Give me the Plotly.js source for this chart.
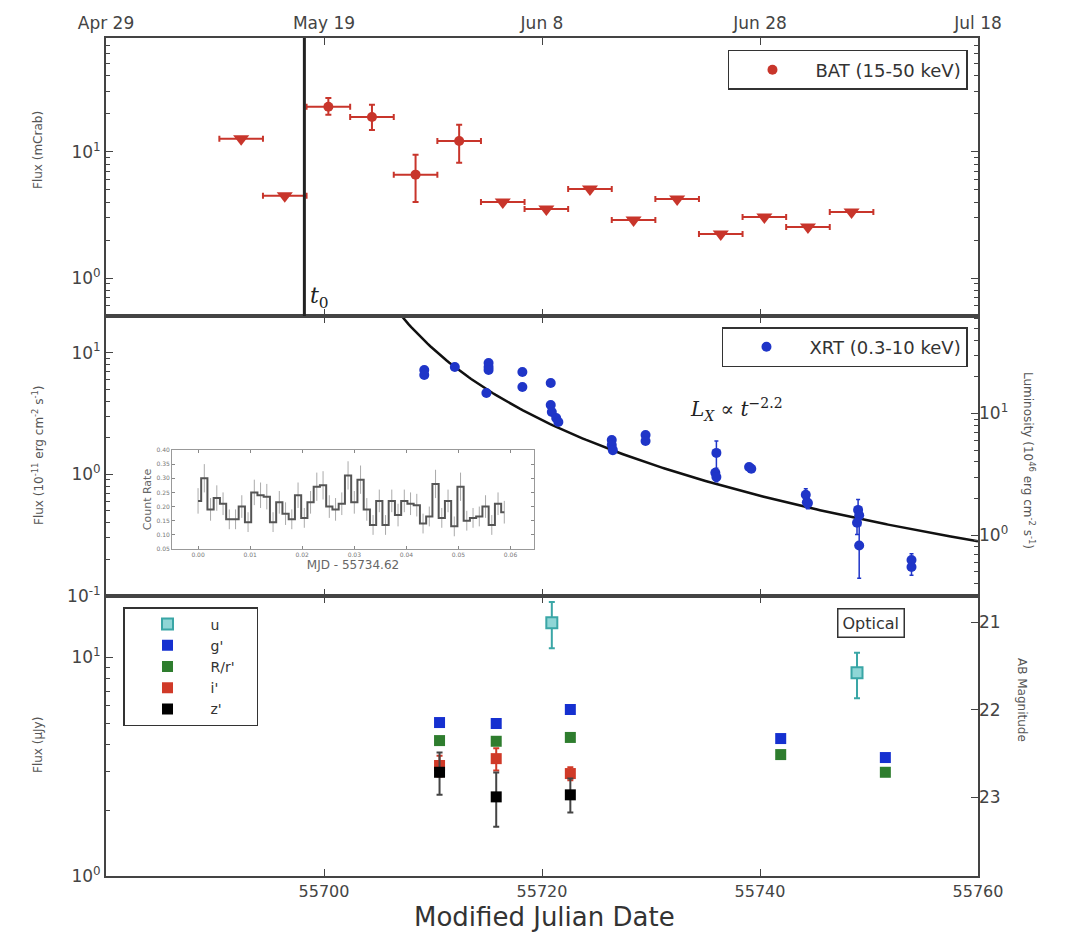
<!DOCTYPE html>
<html>
<head>
<meta charset="utf-8">
<script src="https://cdn.plot.ly/plotly-3.0.1.min.js"></script>
<style>html,body{margin:0;padding:0;background:#fff;}#chart{width:1068px;height:934px;}</style>
</head>
<body>
<div id="chart"></div>
<script>
// ---------------- data ----------------
const mjdTickVals = [55680, 55700, 55720, 55740, 55760];
const dateLabels = ['Apr 29', 'May 19', 'Jun 8', 'Jun 28', 'Jul 18'];
const mjdLabelVals = [55700, 55720, 55740, 55760];
const mjdLabelText = ['55700', '55720', '55740', '55760'];
const t0 = 55698.2;

// BAT (15-50 keV): detections (circles) and upper limits (triangles), 4-day bins
const batT = [55700.4, 55704.4, 55708.4, 55712.4];
const batFlux = [22.8, 18.9, 6.6, 12.2];
const batErrPlus = [4.0, 4.7, 2.9, 4.2];
const batErrMinus = [3.1, 4.0, 2.6, 4.0];
const batUlT = [55692.4, 55696.4, 55716.4, 55720.4, 55724.4, 55728.4, 55732.4, 55736.4, 55740.4, 55744.4, 55748.4];
const batUlFlux = [12.7, 4.48, 4.0, 3.53, 5.08, 2.88, 4.24, 2.23, 3.05, 2.54, 3.34];
const batBinHalf = 2;

// XRT (0.3-10 keV)
const xrtT = [55709.2, 55709.2, 55712.0, 55715.1, 55715.1, 55715.1, 55714.9, 55718.2, 55718.2, 55720.8, 55720.8, 55720.9, 55721.3, 55721.5, 55726.4, 55726.4, 55726.5, 55729.5, 55729.5, 55736.0, 55735.9, 55736.0, 55739.0, 55739.2, 55744.2, 55744.3, 55744.4, 55749.0, 55749.1, 55748.9, 55749.1, 55753.9, 55753.9];
const xrtFlux = [7.19, 6.55, 7.62, 8.22, 7.62, 7.19, 4.66, 6.93, 5.22, 5.62, 3.71, 3.25, 2.90, 2.69, 1.91, 1.74, 1.58, 2.10, 1.88, 1.50, 1.03, 0.95, 1.15, 1.11, 0.68, 0.59, 0.58, 0.51, 0.46, 0.40, 0.26, 0.198, 0.173];
const xrtErr = [0.3, 0.3, 0.3, 0.35, 0.3, 0.3, 0.25, 0.3, 0.25, 0.25, 0.2, 0.2, 0.15, 0.15, 0.1, 0.1, 0.1, 0.1, 0.1, 0.38, 0.08, 0.08, 0.06, 0.06, 0.08, 0.06, 0.06, 0.11, 0.08, 0.08, 0.12, 0.025, 0.025];

// power-law model L_X ∝ (t - t0)^-2.2
const plIndex = -2.2;
const plNorm = 2454;
const plStart = 55706.5, plEnd = 55760, plStep = 0.25;

// Inset: XRT count rate vs MJD - 55734.62
const insetT = [0.0000, 0.0012, 0.0024, 0.0036, 0.0048, 0.0060, 0.0072, 0.0084, 0.0096, 0.0108, 0.0120, 0.0132, 0.0144, 0.0156, 0.0168, 0.0180, 0.0192, 0.0204, 0.0216, 0.0228, 0.0240, 0.0252, 0.0264, 0.0276, 0.0288, 0.0300, 0.0312, 0.0324, 0.0336, 0.0348, 0.0360, 0.0372, 0.0384, 0.0396, 0.0408, 0.0420, 0.0432, 0.0444, 0.0456, 0.0468, 0.0480, 0.0492, 0.0504, 0.0516, 0.0528, 0.0540, 0.0552, 0.0564, 0.0576, 0.0588];
const insetRate = [0.22, 0.30, 0.19, 0.23, 0.21, 0.155, 0.155, 0.20, 0.145, 0.25, 0.24, 0.235, 0.145, 0.215, 0.175, 0.155, 0.24, 0.16, 0.215, 0.27, 0.275, 0.20, 0.19, 0.21, 0.31, 0.215, 0.295, 0.19, 0.135, 0.22, 0.135, 0.22, 0.17, 0.22, 0.21, 0.205, 0.14, 0.165, 0.28, 0.16, 0.22, 0.13, 0.27, 0.15, 0.16, 0.165, 0.20, 0.135, 0.21, 0.18];
const insetErr = [0.045, 0.05, 0.04, 0.045, 0.04, 0.035, 0.035, 0.04, 0.035, 0.045, 0.045, 0.045, 0.035, 0.04, 0.04, 0.035, 0.045, 0.035, 0.04, 0.05, 0.05, 0.04, 0.04, 0.04, 0.05, 0.04, 0.05, 0.04, 0.035, 0.04, 0.035, 0.04, 0.04, 0.04, 0.04, 0.04, 0.035, 0.035, 0.05, 0.035, 0.04, 0.035, 0.05, 0.035, 0.035, 0.035, 0.04, 0.035, 0.04, 0.04];

// Optical photometry (µJy)
const uT = [55720.9, 55748.9];
const uFlux = [14.4, 8.5];
const uErrPlus = [3.5, 2.0];
const uErrMinus = [3.4, 2.0];
const gT = [55710.6, 55715.8, 55722.6, 55741.9, 55751.5];
const gFlux = [5.03, 4.98, 5.77, 4.25, 3.48];
const rT = [55710.6, 55715.8, 55722.6, 55741.9, 55751.5];
const rFlux = [4.16, 4.13, 4.30, 3.59, 2.98];
const iT = [55710.6, 55715.8, 55722.6];
const iFlux = [3.2, 3.44, 2.94];
const iErr = [0.35, 0.4, 0.2];
const zT = [55710.6, 55715.8, 55722.6];
const zFlux = [2.98, 2.30, 2.35];
const zErrPlus = [0.69, 0.67, 0.44];
const zErrMinus = [0.63, 0.62, 0.40];
const abMags = [21, 22, 23];
const abZero = 23.9; // AB mag of 1 µJy

// ---------------- build ----------------
const red = '#c8352b', blue = '#1f35c8';
const plT = [], plF = [];
for (let t = plStart; t <= plEnd + 1e-9; t += plStep) { plT.push(t); plF.push(plNorm * Math.pow(t - t0, plIndex)); }
const abTickVals = abMags.map(m => Math.pow(10, (abZero - m) / 2.5));
const minorVals = (d0, d1) => { const v = []; for (let d = d0; d <= d1; d++) for (let k = 2; k <= 9; k++) v.push(k * Math.pow(10, d)); return v; };
const nb = n => '\u00a0'.repeat(n);

const traces = [
  // top panel
  {x: batUlT, y: batUlFlux, xaxis: 'x3', yaxis: 'y3', mode: 'markers', type: 'scatter', showlegend: false,
   marker: {symbol: 'triangle-down', size: 14, color: red},
   error_x: {type: 'constant', value: batBinHalf, color: red, thickness: 2, width: 3}},
  {x: batT, y: batFlux, xaxis: 'x3', yaxis: 'y3', mode: 'markers', type: 'scatter', name: 'BAT (15-50 keV)', legend: 'legend',
   marker: {symbol: 'circle', size: 10, color: red},
   error_x: {type: 'constant', value: batBinHalf, color: red, thickness: 2, width: 3},
   error_y: {type: 'data', array: batErrPlus, arrayminus: batErrMinus, symmetric: false, color: red, thickness: 2, width: 3}},
  // middle panel
  {x: plT, y: plF, xaxis: 'x2', yaxis: 'y2', mode: 'lines', type: 'scatter', showlegend: false,
   line: {color: '#111', width: 2.5}},
  {x: xrtT, y: xrtFlux, xaxis: 'x2', yaxis: 'y2', mode: 'markers', type: 'scatter', name: 'XRT (0.3-10 keV)', legend: 'legend2',
   marker: {symbol: 'circle', size: 10, color: blue},
   error_y: {type: 'data', array: xrtErr, color: blue, thickness: 1.5, width: 2}},
  // right-hand luminosity axis (carries no marks)
  {x: [], y: [], xaxis: 'x2', yaxis: 'y4', mode: 'markers', type: 'scatter', showlegend: false},
  // inset
  {x: insetT, y: insetRate, xaxis: 'x4', yaxis: 'y6', mode: 'lines', type: 'scatter', showlegend: false,
   line: {color: '#555', width: 2, shape: 'hvh'},
   error_y: {type: 'data', array: insetErr, color: '#aaa', thickness: 1, width: 0}},
  // bottom panel
  {x: uT, y: uFlux, xaxis: 'x', yaxis: 'y', mode: 'markers', type: 'scatter', name: 'u' + nb(7), legend: 'legend3',
   marker: {symbol: 'square', size: 11, color: '#8fd6d6', line: {color: '#3aa6a6', width: 2}},
   error_y: {type: 'data', array: uErrPlus, arrayminus: uErrMinus, symmetric: false, color: '#3aa6a6', thickness: 2, width: 3}},
  {x: gT, y: gFlux, xaxis: 'x', yaxis: 'y', mode: 'markers', type: 'scatter', name: "g'", legend: 'legend3',
   marker: {symbol: 'square', size: 11, color: '#1530d0'}},
  {x: rT, y: rFlux, xaxis: 'x', yaxis: 'y', mode: 'markers', type: 'scatter', name: "R/r'", legend: 'legend3',
   marker: {symbol: 'square', size: 11, color: '#2e7d2e'}},
  {x: iT, y: iFlux, xaxis: 'x', yaxis: 'y', mode: 'markers', type: 'scatter', name: "i'", legend: 'legend3',
   marker: {symbol: 'square', size: 11, color: '#d03a28'},
   error_y: {type: 'data', array: iErr, color: '#d03a28', thickness: 2, width: 3}},
  {x: zT, y: zFlux, xaxis: 'x', yaxis: 'y', mode: 'markers', type: 'scatter', name: "z'", legend: 'legend3',
   marker: {symbol: 'square', size: 11, color: '#000'},
   error_y: {type: 'data', array: zErrPlus, arrayminus: zErrMinus, symmetric: false, color: '#444', thickness: 2, width: 3}},
  // right-hand AB magnitude axis (carries no marks)
  {x: [], y: [], xaxis: 'x', yaxis: 'y5', mode: 'markers', type: 'scatter', showlegend: false}
];

const axCol = '#444';
const tickFont = {family: 'DejaVu Sans', size: 17, color: '#444'};
const sup = e => '10<sup>' + e + '</sup>';
const minor = vals => ({tickvals: vals, ticks: 'inside', ticklen: 4, tickcolor: axCol, tickwidth: 1});

const dBot = [0, 0.3341], dMid = [0.3341, 0.6683], dTop = [0.6683, 1];
const botTop = 1.28;

const layout = {
  width: 1068, height: 934,
  margin: {l: 106, r: 90, t: 38, b: 58},
  paper_bgcolor: '#fff', plot_bgcolor: '#fff',
  font: {family: 'DejaVu Sans', color: '#333'},
  xaxis: {domain: [0, 1], anchor: 'y', range: [55680, 55760], tickvals: mjdLabelVals, ticktext: mjdLabelText, ticks: 'inside', ticklen: 7, tickcolor: axCol,
          showline: true, linecolor: axCol, linewidth: 2, mirror: 'ticks', showgrid: false, zeroline: false, tickfont: {family: 'DejaVu Sans', size: 16, color: '#444'}},
  xaxis2: {domain: [0, 1], anchor: 'y2', matches: 'x', tickvals: mjdLabelVals, ticks: 'inside', ticklen: 7, tickcolor: axCol, showticklabels: false,
          showline: true, linecolor: axCol, linewidth: 2, mirror: 'ticks', showgrid: false, zeroline: false},
  xaxis3: {domain: [0, 1], anchor: 'y3', matches: 'x', side: 'top', tickvals: mjdTickVals, ticktext: dateLabels, ticks: 'inside', ticklen: 7, tickcolor: axCol,
          showline: true, linecolor: axCol, linewidth: 2, mirror: 'ticks', showgrid: false, zeroline: false, tickfont: tickFont},
  yaxis: {domain: dBot, anchor: 'x', type: 'log', range: [0, botTop], tickvals: [1, 10], ticktext: [sup(0), sup(1)], ticks: 'inside', ticklen: 7, tickcolor: axCol,
          showline: true, linecolor: axCol, linewidth: 2, mirror: true, showgrid: false, zeroline: false, tickfont: tickFont, minor: minor(minorVals(0, 1))},
  yaxis2: {domain: dMid, anchor: 'x2', type: 'log', range: [-1, Math.log10(20)], tickvals: [0.1, 1, 10], ticktext: [sup('-1'), sup(0), sup(1)], ticks: 'inside', ticklen: 7, tickcolor: axCol,
          showline: true, linecolor: axCol, linewidth: 2, mirror: true, showgrid: false, zeroline: false, tickfont: tickFont, minor: minor(minorVals(-1, 1))},
  yaxis3: {domain: dTop, anchor: 'x3', type: 'log', range: [Math.log10(0.5), Math.log10(80)], tickvals: [1, 10], ticktext: [sup(0), sup(1)], ticks: 'inside', ticklen: 7, tickcolor: axCol,
          showline: true, linecolor: axCol, linewidth: 2, mirror: 'ticks', showgrid: false, zeroline: false, tickfont: tickFont, minor: minor(minorVals(-1, 1))},
  yaxis4: {overlaying: 'y2', side: 'right', anchor: 'x2', type: 'log', range: [-0.5, 1.801], tickvals: [1, 10], ticktext: [sup(0), sup(1)], ticks: 'inside', ticklen: 7, tickcolor: axCol,
          showline: false, showgrid: false, zeroline: false, tickfont: tickFont, minor: minor(minorVals(-1, 1))},
  yaxis5: {overlaying: 'y', side: 'right', anchor: 'x', type: 'log', range: [0, botTop], tickvals: abTickVals, ticktext: abMags.map(String), ticks: 'inside', ticklen: 7, tickcolor: axCol,
          showline: false, showgrid: false, zeroline: false, tickfont: tickFont},
  // inset axes
  xaxis4: {domain: [0.0757, 0.4908], anchor: 'y6', range: [-0.005, 0.0645], tickvals: [0, 0.01, 0.02, 0.03, 0.04, 0.05, 0.06], tickformat: '.2f',
           ticks: 'inside', ticklen: 3, tickcolor: '#888', showline: true, linecolor: '#999', linewidth: 1, mirror: 'ticks', showgrid: false, zeroline: false,
           tickfont: {size: 6, color: '#777'}, title: {text: 'MJD - 55734.62', font: {size: 12, color: '#666'}, standoff: 2}},
  yaxis6: {domain: [0.3902, 0.5084], anchor: 'x4', range: [0.05, 0.40], tickvals: [0.05, 0.10, 0.15, 0.20, 0.25, 0.30, 0.35, 0.40], tickformat: '.2f',
           ticks: 'inside', ticklen: 3, tickcolor: '#888', showline: true, linecolor: '#999', linewidth: 1, mirror: 'ticks', showgrid: false, zeroline: false,
           tickfont: {size: 6, color: '#777'}, title: {text: 'Count Rate', font: {size: 11, color: '#666'}, standoff: 2}},
  legend: {x: 0.9885, xanchor: 'right', y: 0.9857, yanchor: 'top', bgcolor: '#fff', bordercolor: '#333', borderwidth: 1.5,
           font: {size: 18, color: '#333'}, itemwidth: 76},
  legend2: {x: 0.9885, xanchor: 'right', y: 0.6551, yanchor: 'top', bgcolor: '#fff', bordercolor: '#333', borderwidth: 1.5,
           font: {size: 18, color: '#333'}, itemwidth: 76},
  legend3: {x: 0.0195, xanchor: 'left', y: 0.3210, yanchor: 'top', bgcolor: '#fff', bordercolor: '#333', borderwidth: 1.5,
           font: {size: 14, color: '#333'}, itemwidth: 76, tracegroupgap: 0},
  shapes: [
    {type: 'line', xref: 'x3', yref: 'y3 domain', x0: t0, x1: t0, y0: 0, y1: 1, line: {color: '#222', width: 3}}
  ],
  annotations: [
    {xref: 'x3', yref: 'paper', x: t0, y: 0.6909, xanchor: 'left', xshift: 4, yanchor: 'middle', showarrow: false,
     text: '<i>t</i><sub>0</sub>', font: {family: 'DejaVu Serif', size: 22, color: '#222'}},
    {xref: 'paper', yref: 'paper', x: 0.7225, y: 0.5561, xanchor: 'center', yanchor: 'middle', showarrow: false,
     text: '<i>L</i><sub><i>X</i></sub> ∝ <i>t</i><sup>−2.2</sup>', font: {family: 'DejaVu Serif', size: 20, color: '#222'}},
    {xref: 'paper', yref: 'paper', x: 0.877, y: 0.3019, xanchor: 'center', yanchor: 'middle', showarrow: false, text: 'Optical',
     font: {size: 16, color: '#333'}, bordercolor: '#333', borderwidth: 1.5, borderpad: 4, bgcolor: '#fff'},
    {xref: 'paper', yref: 'paper', x: -0.078, y: 0.8663, xanchor: 'center', yanchor: 'middle', showarrow: false, textangle: -90, text: 'Flux (mCrab)', font: {size: 12, color: '#555'}},
    {xref: 'paper', yref: 'paper', x: -0.078, y: 0.5024, xanchor: 'center', yanchor: 'middle', showarrow: false, textangle: -90,
     text: 'Flux (10<sup>-11</sup> erg cm<sup>-2</sup> s<sup>-1</sup>)', font: {size: 12, color: '#555'}},
    {xref: 'paper', yref: 'paper', x: -0.078, y: 0.1563, xanchor: 'center', yanchor: 'middle', showarrow: false, textangle: -90, text: 'Flux (μJy)', font: {size: 12, color: '#555'}},
    {xref: 'paper', yref: 'paper', x: 1.0585, y: 0.4964, xanchor: 'center', yanchor: 'middle', showarrow: false, textangle: 90,
     text: 'Luminosity (10<sup>46</sup> erg cm<sup>-2</sup> s<sup>-1</sup>)', font: {size: 12, color: '#555'}},
    {xref: 'paper', yref: 'paper', x: 1.0505, y: 0.21, xanchor: 'center', yanchor: 'middle', showarrow: false, textangle: 90, text: 'AB Magnitude', font: {size: 12, color: '#555'}},
    {xref: 'paper', yref: 'paper', x: 0.503, y: -0.0495, xanchor: 'center', yanchor: 'middle', showarrow: false, text: 'Modified Julian Date', font: {size: 26, color: '#333'}}
  ]
};

Plotly.newPlot('chart', traces, layout, {displayModeBar: false, staticPlot: true});
</script>
</body>
</html>
